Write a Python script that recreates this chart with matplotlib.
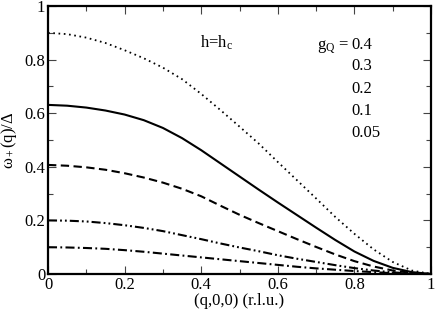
import matplotlib
matplotlib.use("Agg")
import matplotlib.pyplot as plt
from matplotlib.ticker import MultipleLocator

plt.rcParams['font.family'] = ['Liberation Serif', 'DejaVu Serif']
plt.rcParams['mathtext.fontset'] = 'custom'
plt.rcParams['mathtext.rm'] = 'Liberation Serif'
plt.rcParams['mathtext.it'] = 'Liberation Serif:italic'
plt.rcParams['lines.scale_dashes'] = False

q = [0.00, 0.05, 0.10, 0.15, 0.20, 0.25, 0.30, 0.35, 0.40, 0.45, 0.50,
     0.55, 0.60, 0.65, 0.70, 0.75, 0.80, 0.85, 0.90, 0.95, 1.00]

w_04 = [0.900, 0.895, 0.882, 0.862, 0.835, 0.805, 0.770, 0.727, 0.672, 0.612, 0.550,
        0.487, 0.418, 0.350, 0.282, 0.213, 0.150, 0.092, 0.045, 0.013, 0.000]
w_03 = [0.631, 0.628, 0.621, 0.610, 0.595, 0.574, 0.545, 0.507, 0.462, 0.413, 0.364,
        0.315, 0.267, 0.220, 0.173, 0.127, 0.084, 0.049, 0.023, 0.007, 0.000]
w_02 = [0.407, 0.404, 0.398, 0.389, 0.376, 0.360, 0.341, 0.318, 0.290, 0.255, 0.221,
        0.190, 0.160, 0.130, 0.101, 0.073, 0.048, 0.028, 0.013, 0.004, 0.000]
w_01 = [0.200, 0.199, 0.196, 0.190, 0.182, 0.172, 0.160, 0.145, 0.130, 0.114, 0.099,
        0.085, 0.070, 0.057, 0.045, 0.033, 0.022, 0.013, 0.006, 0.002, 0.000]
w_005 = [0.100, 0.099, 0.097, 0.094, 0.089, 0.083, 0.076, 0.069, 0.062, 0.055, 0.048,
         0.041, 0.034, 0.027, 0.021, 0.016, 0.011, 0.007, 0.003, 0.001, 0.000]

g_labels = ['0.4', '0.3', '0.2', '0.1', '0.05']
x_ticks = [0, 0.2, 0.4, 0.6, 0.8, 1]
y_ticks = [0, 0.2, 0.4, 0.6, 0.8, 1]
x_ticklabels = ['0', '0.2', '0.4', '0.6', '0.8', '1']
y_ticklabels = ['0', '0.2', '0.4', '0.6', '0.8', '1']

fig = plt.figure(figsize=(4.36, 3.11), dpi=100)
ax = fig.add_axes([48/436, 37/311, 383/436, 268/311])

lw = 1.5
ax.plot(q, w_04, color='black', lw=1.3, linestyle=(0, (1.2, 2.6)))
ax.plot(q, w_03, color='black', lw=lw, linestyle='-')
ax.plot(q, w_02, color='black', lw=lw, linestyle=(0, (6.0, 3.2)))
ax.plot(q, w_01, color='black', lw=lw, linestyle=(0, (6.5, 2.2, 1.3, 2.2, 1.3, 2.2)))
ax.plot(q, w_005, color='black', lw=lw, linestyle=(0, (6.5, 2.4, 1.3, 2.4)))

ax.set_xlim(0, 1)
ax.set_ylim(0, 1)
ax.set_xticks(x_ticks)
ax.set_xticklabels(x_ticklabels)
ax.set_yticks(y_ticks)
ax.set_yticklabels(y_ticklabels)
ax.xaxis.set_minor_locator(MultipleLocator(0.1))
ax.yaxis.set_minor_locator(MultipleLocator(0.1))
ax.tick_params(which='both', direction='in', top=True, right=True, labelsize=12,
               width=0.8, color='#444444')
ax.tick_params(which='major', length=6)
ax.tick_params(which='minor', length=3.5)
ax.tick_params(axis='x', pad=2)
ax.tick_params(axis='y', pad=2)
for s in ax.spines.values():
    s.set_linewidth(1.6)

ax.set_xlabel('(q,0,0) (r.l.u.)', fontsize=12, labelpad=0)
ax.set_ylabel('ω$_+$(q)/Δ', fontsize=12, labelpad=4)

ax.text(0.397, 0.843, 'h=h$_\\mathregular{c}$', fontsize=12, ha='left', va='baseline')
ax.text(0.786, 0.838, 'g$_\\mathregular{Q}$ =', fontsize=12, ha='right', va='baseline')
ys = [0.838, 0.761, 0.677, 0.593, 0.510]
for lab, yy in zip(g_labels, ys):
    ax.text(0.793, yy, lab, fontsize=12, ha='left', va='baseline')

fig.savefig('out.png', dpi=100)
